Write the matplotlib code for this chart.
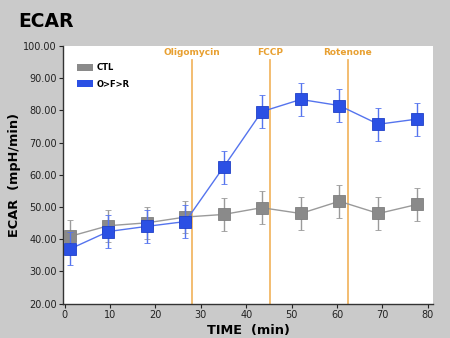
import matplotlib
matplotlib.use('Agg')
import matplotlib.pyplot as plt
from matplotlib.patches import Rectangle

# measurement times (min)
time = [1.2, 9.6, 18.1, 26.6, 35.0, 43.4, 52.0, 60.5, 69.1, 77.6]

ctl_mean = [40.9, 44.2, 45.1, 46.9, 47.7, 49.8, 48.0, 51.8, 48.0, 50.8]
ctl_err = [5.0, 5.0, 5.0, 5.0, 5.1, 5.1, 5.1, 5.1, 5.1, 5.2]

ofr_mean = [37.0, 42.4, 44.0, 45.5, 62.4, 79.6, 83.4, 81.5, 75.7, 77.3]
ofr_err = [5.1, 5.1, 5.1, 5.1, 5.1, 5.1, 5.1, 5.1, 5.1, 5.1]

injections = ['Oligomycin', 'FCCP', 'Rotenone']
inject_time = [28.1, 45.2, 62.4]

bg = '#cacaca'
gray = '#8a8a8a'
blue = '#2b50e4'
blue_line = '#5574ee'
orange = '#f2b766'
orange_txt = '#e8a031'

fig = plt.figure(figsize=(4.5, 3.38), dpi=100, facecolor=bg)
ax = fig.add_axes([0.1407, 0.1015, 0.8223, 0.7625])
ax.set_facecolor('white')

for t in inject_time:
    ax.plot([t, t], [20, 95.5], color=orange, lw=1.3, zorder=1)
for name, t in zip(injections, inject_time):
    ax.text(t, 98.0, name, color=orange_txt, fontsize=6.5, fontweight='bold',
            ha='center', va='center')

ax.errorbar(time, ctl_mean, yerr=ctl_err, color='#9a9a9a', lw=1.0,
            marker='s', ms=9, mfc=gray, mec='#7e7e7e', mew=0.6,
            ecolor='#9a9a9a', elinewidth=1.0, capsize=2, capthick=1.0, zorder=3)
ax.errorbar(time, ofr_mean, yerr=ofr_err, color=blue_line, lw=1.0,
            marker='s', ms=9, mfc=blue, mec='#2040c8', mew=0.6,
            ecolor=blue_line, elinewidth=1.0, capsize=2, capthick=1.0, zorder=4)

ax.set_xlim(-0.3, 81.2)
ax.set_ylim(20, 100)
ax.set_xticks(range(0, 81, 10))
ax.set_yticks(range(20, 101, 10))
ax.set_yticklabels(['%.2f' % v for v in range(20, 101, 10)])
ax.tick_params(labelsize=7, colors='#222222', length=3, width=0.8, pad=1.5)
for s in ['top', 'right']:
    ax.spines[s].set_visible(False)
for s in ['left', 'bottom']:
    ax.spines[s].set_color('#333333')
    ax.spines[s].set_linewidth(1.0)

ax.set_xlabel('TIME  (min)', fontsize=9.3, fontweight='bold', labelpad=3)
ax.set_ylabel('ECAR  (mpH/min)', fontsize=9.3, fontweight='bold', labelpad=2)

# legend
handles = [Rectangle((0, 0), 1, 1, fc=gray, ec='none'),
           Rectangle((0, 0), 1, 1, fc=blue, ec='none')]
leg = ax.legend(handles, ['CTL', 'O>F>R'], loc='upper left',
                bbox_to_anchor=(0.018, 0.962), frameon=False,
                prop={'size': 6, 'weight': 'bold'},
                handlelength=1.9, handleheight=0.9, handletextpad=0.4,
                labelspacing=0.9)

fig.text(0.04, 0.937, 'ECAR', fontsize=13.5, fontweight='bold', va='center')

fig.savefig('out.png', dpi=100, facecolor=bg)
